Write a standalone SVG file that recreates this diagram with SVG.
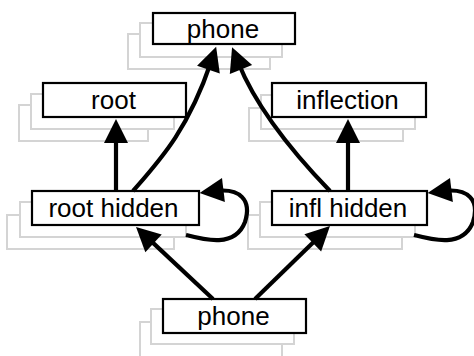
<svg xmlns="http://www.w3.org/2000/svg" width="474" height="356" viewBox="0 0 474 356">
  <style>
    .sh { fill: #ffffff; stroke: #d4d4d4; stroke-width: 2; }
    .box { fill: #ffffff; stroke: #000000; stroke-width: 2.2; }
    .lbl { font-family: "Liberation Sans", Arial, sans-serif; font-size: 26px; fill: #000000; text-anchor: middle; }
    .edge { fill: none; stroke: #000000; stroke-width: 4.2; marker-end: url(#head); }
  </style>
  <defs>
    <marker id="head" markerUnits="userSpaceOnUse" markerWidth="26" markerHeight="26" refX="8" refY="12" orient="auto" overflow="visible">
      <path d="M0,0 L24,12 L0,24 Z" fill="#000000"/>
    </marker>
  </defs>
  <rect width="474" height="356" fill="#ffffff"/>

  <g id="phone-top">
    <rect class="sh" x="128" y="34" width="142" height="35"/>
    <rect class="sh" x="140" y="23" width="142" height="34"/>
    <rect class="box" x="153" y="13" width="142" height="31"/>
    <text class="lbl" x="223" y="38">phone</text>
  </g>

  <g id="root">
    <rect class="sh" x="19" y="105" width="129" height="36"/>
    <rect class="sh" x="31" y="94" width="143" height="35"/>
    <rect class="box" x="43" y="83" width="143" height="34"/>
    <text class="lbl" x="113.5" y="108.5">root</text>
  </g>

  <g id="inflection">
    <rect class="sh" x="249" y="108" width="154" height="33"/>
    <rect class="sh" x="261" y="95" width="154" height="34"/>
    <rect class="box" x="272" y="83" width="154" height="34"/>
    <text class="lbl" x="347.5" y="108.5">inflection</text>
  </g>

  <g id="root-hidden">
    <rect class="sh" x="7" y="215" width="167" height="34"/>
    <rect class="sh" x="20" y="202" width="166" height="35"/>
    <rect class="box" x="32" y="191" width="167" height="34"/>
    <text class="lbl" x="113.5" y="216.5">root hidden</text>
  </g>

  <g id="infl-hidden">
    <rect class="sh" x="248" y="215" width="154" height="34"/>
    <rect class="sh" x="260" y="202" width="155" height="35"/>
    <rect class="box" x="272" y="191" width="155" height="34"/>
    <text class="lbl" x="348" y="216.5">infl hidden</text>
  </g>

  <g id="phone-bottom">
    <rect class="sh" x="140" y="322" width="142" height="40"/>
    <rect class="sh" x="151" y="309" width="143" height="35"/>
    <rect class="box" x="163" y="299" width="143" height="34"/>
    <text class="lbl" x="233.5" y="324.5">phone</text>
  </g>

  <g id="connectors">
    <!-- hidden layers to outputs -->
    <path class="edge" d="M116,191 L116,135"/>
    <path class="edge" d="M348,191 L348,135"/>
    <!-- hidden layers to predicted phone -->
    <path class="edge" d="M133,191 C160,160 188,130 211,62"/>
    <path class="edge" d="M330,191 C300,160 258,112 238,62"/>
    <!-- input phone to hidden layers -->
    <path class="edge" d="M213,299 L147.7,237.9"/>
    <path class="edge" d="M255,299 L318.5,237.2"/>
    <!-- recurrent self loops -->
    <path class="edge" d="M186,235 C205,240 235,248 245,222 C252,200 240,188 215.5,191"/>
    <path class="edge" d="M414,235 C433,240 463,248 473,222 C480,200 468,188 443.5,191"/>
  </g>
</svg>
